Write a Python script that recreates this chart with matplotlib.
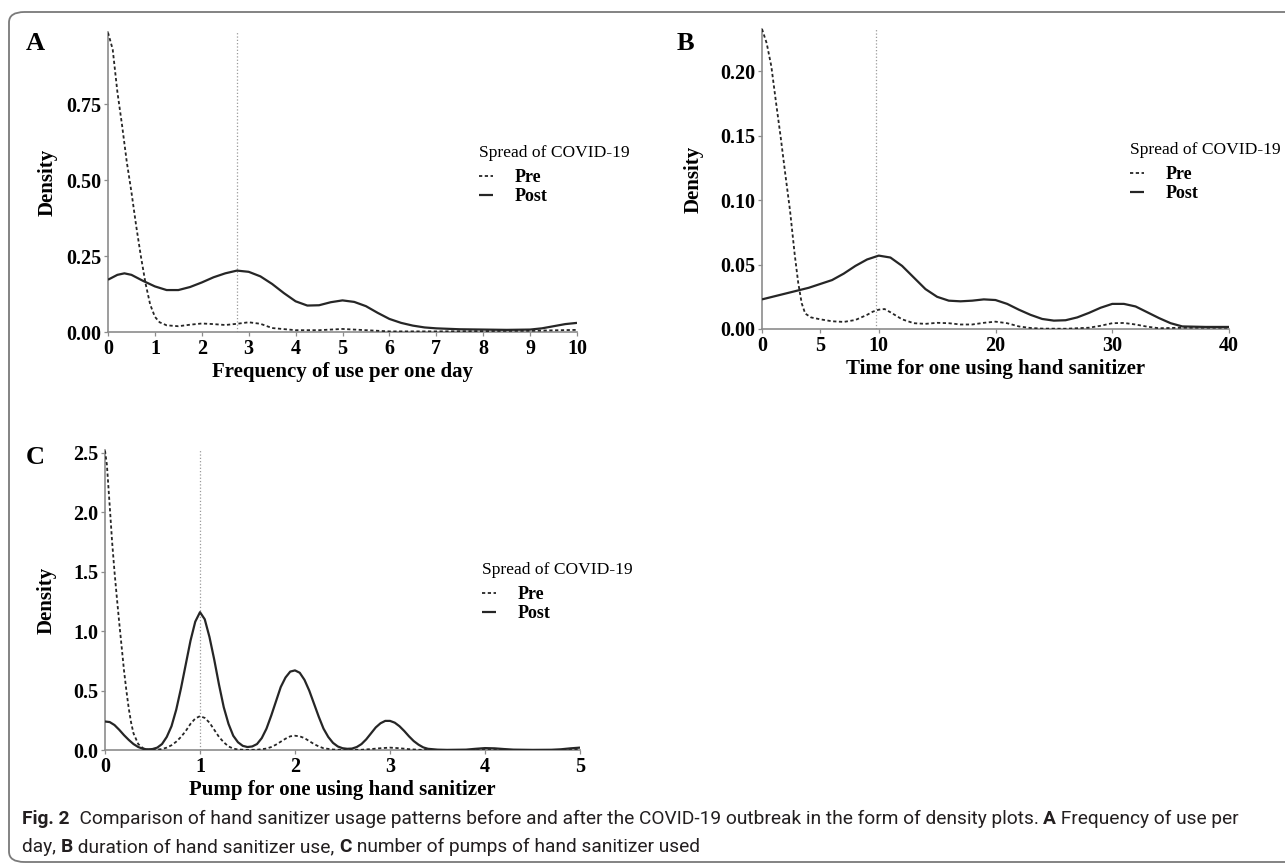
import matplotlib.pyplot as plt
from matplotlib.patches import FancyBboxPatch

# ---- data ----
# A: frequency of use per day
a_pre_x = [0, 0.1, 0.2, 0.3, 0.4, 0.5, 0.6, 0.7, 0.8, 0.9, 1.0, 1.1, 1.25, 1.5, 1.75,
           2.0, 2.25, 2.5, 2.75, 3.0, 3.25, 3.5, 4, 4.5, 5, 5.5, 6, 7, 8, 9, 10]
a_pre_y = [0.985, 0.93, 0.79, 0.68, 0.56, 0.46, 0.35, 0.25, 0.16, 0.09, 0.05, 0.032, 0.022,
           0.019, 0.024, 0.028, 0.026, 0.023, 0.027, 0.032, 0.027, 0.013, 0.006, 0.006,
           0.010, 0.006, 0.002, 0.002, 0.003, 0.004, 0.007]
a_post_x = [0, 0.2, 0.35, 0.5, 0.75, 1.0, 1.25, 1.5, 1.75, 2.0, 2.25, 2.5, 2.75, 3.0, 3.25,
            3.5, 3.75, 4.0, 4.25, 4.5, 4.75, 5.0, 5.25, 5.5, 5.75, 6.0, 6.25, 6.5, 6.75,
            7.0, 7.5, 8.0, 8.5, 9.0, 9.25, 9.5, 9.75, 10]
a_post_y = [0.172, 0.188, 0.193, 0.188, 0.168, 0.15, 0.138, 0.138, 0.148, 0.163, 0.18, 0.193,
            0.202, 0.198, 0.183, 0.158, 0.128, 0.101, 0.087, 0.088, 0.098, 0.104, 0.099,
            0.085, 0.063, 0.043, 0.03, 0.021, 0.015, 0.012, 0.009, 0.008, 0.007, 0.008,
            0.012, 0.019, 0.026, 0.03]

# B: time for one use
b_pre_x = [0, 0.4, 0.8, 1.2, 1.6, 2.0, 2.4, 2.8, 3.1, 3.4, 3.7, 4.2, 5, 6, 7, 8, 9, 9.5, 10,
           10.5, 11, 12, 13, 14, 15, 16, 17, 18, 19, 20, 21, 22, 23, 24, 26, 28, 29, 30,
           31, 32, 33, 34, 36, 38, 40]
b_pre_y = [0.233, 0.222, 0.204, 0.176, 0.149, 0.12, 0.092, 0.058, 0.036, 0.02, 0.012, 0.009,
           0.0075, 0.006, 0.0055, 0.007, 0.011, 0.0135, 0.015, 0.0155, 0.013, 0.0075, 0.0045,
           0.004, 0.0048, 0.0045, 0.0035, 0.0035, 0.0048, 0.0057, 0.0045, 0.002, 0.0008,
           0.0003, 0.0002, 0.001, 0.0025, 0.0045, 0.0047, 0.0035, 0.0018, 0.0006, 0.001,
           0.001, 0.001]
b_post_x = [0, 2, 4, 6, 7, 8, 9, 10, 11, 12, 13, 14, 15, 16, 17, 18, 19, 20, 21, 22, 23, 24,
            25, 26, 27, 28, 29, 30, 31, 32, 33, 34, 35, 36, 38, 40]
b_post_y = [0.023, 0.0275, 0.032, 0.038, 0.043, 0.049, 0.054, 0.057, 0.0555, 0.049, 0.04,
            0.031, 0.025, 0.022, 0.0215, 0.022, 0.023, 0.0225, 0.0195, 0.015, 0.011, 0.0078,
            0.0065, 0.0068, 0.009, 0.0125, 0.0165, 0.0195, 0.0195, 0.0175, 0.013, 0.0085,
            0.0045, 0.002, 0.0016, 0.0016]

# C: pumps per use
c_pre_x = [0, 0.02, 0.05, 0.075, 0.1, 0.125, 0.15, 0.175, 0.2, 0.225, 0.25, 0.275, 0.3,
           0.35, 0.4, 0.45, 0.5, 0.55, 0.6, 0.65, 0.7, 0.75, 0.8, 0.85, 0.9, 0.95, 1.0,
           1.05, 1.1, 1.15, 1.2, 1.25, 1.3, 1.35, 1.4, 1.5, 1.6, 1.7, 1.75, 1.8, 1.85, 1.9,
           1.95, 2.0, 2.05, 2.1, 2.15, 2.2, 2.25, 2.3, 2.4, 2.5, 2.7, 2.8, 2.9, 3.0, 3.1,
           3.2, 3.3, 3.5, 4.0, 5.0]
c_pre_y = [2.52, 2.4, 2.05, 1.75, 1.5, 1.28, 1.07, 0.87, 0.67, 0.5, 0.35, 0.23, 0.14, 0.05,
           0.015, 0.004, 0.002, 0.003, 0.008, 0.02, 0.04, 0.07, 0.11, 0.16, 0.22, 0.265,
           0.285, 0.27, 0.23, 0.17, 0.11, 0.065, 0.03, 0.012, 0.004, 0.001, 0.002, 0.012,
           0.025, 0.045, 0.07, 0.095, 0.115, 0.12, 0.115, 0.1, 0.075, 0.05, 0.03, 0.015,
           0.004, 0.001, 0.002, 0.008, 0.015, 0.02, 0.015, 0.007, 0.002, 0.0, 0.0, 0.0]
c_post_x = [0.0, 0.05, 0.1, 0.15, 0.2, 0.25, 0.3, 0.35, 0.4, 0.45, 0.5, 0.55, 0.6, 0.65,
            0.7, 0.75, 0.8, 0.85, 0.9, 0.95, 1.0, 1.05, 1.1, 1.15, 1.2, 1.25, 1.3, 1.35,
            1.4, 1.45, 1.5, 1.55, 1.6, 1.65, 1.7, 1.75, 1.8, 1.85, 1.9, 1.95, 2.0, 2.05,
            2.1, 2.15, 2.2, 2.25, 2.3, 2.35, 2.4, 2.45, 2.5, 2.55, 2.6, 2.65, 2.7, 2.75,
            2.8, 2.85, 2.9, 2.95, 3.0, 3.05, 3.1, 3.15, 3.2, 3.25, 3.3, 3.35, 3.4, 3.5,
            3.6, 3.8, 3.9, 4.0, 4.1, 4.2, 4.3, 4.5, 4.7, 4.8, 4.9, 5.0]
c_post_y = [0.24, 0.235, 0.21, 0.17, 0.125, 0.085, 0.05, 0.025, 0.01, 0.005, 0.008, 0.02,
            0.05, 0.11, 0.2, 0.34, 0.52, 0.72, 0.92, 1.08, 1.16, 1.10, 0.95, 0.76, 0.55,
            0.36, 0.22, 0.12, 0.065, 0.035, 0.025, 0.03, 0.05, 0.1, 0.18, 0.29, 0.41, 0.53,
            0.61, 0.66, 0.67, 0.65, 0.59, 0.5, 0.39, 0.28, 0.18, 0.11, 0.06, 0.03, 0.015,
            0.01, 0.012, 0.025, 0.05, 0.09, 0.14, 0.19, 0.225, 0.245, 0.245, 0.23, 0.2,
            0.16, 0.115, 0.075, 0.045, 0.022, 0.01, 0.003, 0.001, 0.003, 0.01, 0.016,
            0.014, 0.008, 0.003, 0.001, 0.002, 0.006, 0.014, 0.02]

W, H = 1285, 868
SERIF = 'Liberation Serif'

fig = plt.figure(figsize=(W / 100, H / 100), dpi=100)

# rounded frame around the figure
frame = FancyBboxPatch((9 / W, 1 - 862 / H), 1.05, (862 - 12) / H,
                       boxstyle='round,pad=0,rounding_size=0.012',
                       transform=fig.transFigure, fill=False,
                       edgecolor='#7a7a7a', linewidth=1.3)
fig.patches.append(frame)


def px_axes(left, right, top, bottom):
    return fig.add_axes([left / W, 1 - bottom / H, (right - left) / W, (bottom - top) / H])


panels = [
    dict(box=(108, 577, 32, 332), pre=(a_pre_x, a_pre_y), post=(a_post_x, a_post_y),
         xlim=(0, 10), ylim=(0, 0.987), xticks=list(range(11)),
         yticks=[0, 0.25, 0.5, 0.75], yfmt='{:.2f}', vline=2.75,
         xlabel='Frequency of use per one day', letter='A', letter_xy=(35, 43),
         legend_xy=(479, 145), ylabel_x=48, xlabel_y=372),
    dict(box=(762, 1229, 29, 329), pre=(b_pre_x, b_pre_y), post=(b_post_x, b_post_y),
         xlim=(0, 40), ylim=(0, 0.233), xticks=[0, 5, 10, 20, 30, 40],
         yticks=[0, 0.05, 0.1, 0.15, 0.2], yfmt='{:.2f}', vline=9.75,
         xlabel='Time for one using hand sanitizer', letter='B', letter_xy=(685, 43),
         legend_xy=(1130, 142), ylabel_x=694, xlabel_y=369),
    dict(box=(105, 580, 450, 750), pre=(c_pre_x, c_pre_y), post=(c_post_x, c_post_y),
         xlim=(0, 5), ylim=(0, 2.525), xticks=list(range(6)),
         yticks=[0, 0.5, 1.0, 1.5, 2.0, 2.5], yfmt='{:.1f}', vline=1.0,
         xlabel='Pump for one using hand sanitizer', letter='C', letter_xy=(35, 457),
         legend_xy=(482, 562), ylabel_x=47, xlabel_y=790),
]

for p in panels:
    ax = px_axes(*p['box'])
    ax.axvline(p['vline'], color='#9a9a9a', linestyle=':', linewidth=0.9, zorder=1)
    ax.plot(*p['post'], color='#262626', linewidth=1.6, solid_capstyle='butt',
            label='Post', zorder=3)
    ax.plot(*p['pre'], color='#262626', linewidth=1.3, dashes=(1.8, 1.4),
            label='Pre', zorder=3)
    ax.set_xlim(*p['xlim'])
    ax.set_ylim(*p['ylim'])
    ax.set_xticks(p['xticks'])
    ax.set_yticks(p['yticks'])
    ax.set_yticklabels([p['yfmt'].format(v) for v in p['yticks']])
    for side in ('top', 'right'):
        ax.spines[side].set_visible(False)
    for side in ('left', 'bottom'):
        ax.spines[side].set_color('#8c8c8c')
        ax.spines[side].set_linewidth(1.2)
    ax.tick_params(length=3, width=0.9, color='#8c8c8c', pad=2)
    for lab in ax.get_xticklabels() + ax.get_yticklabels():
        lab.set_fontfamily(SERIF)
        lab.set_fontweight('bold')
        lab.set_fontsize(14.5)
        lab.set_color('black')
    ax.set_facecolor('none')

    l, r, t, b = p['box']
    fig.text(p['ylabel_x'] / W, 1 - (t + b) / 2 / H, 'Density', rotation=90,
             ha='center', va='center', fontfamily=SERIF, fontweight='bold', fontsize=15)
    fig.text((l + r) / 2 / W, 1 - p['xlabel_y'] / H, p['xlabel'], ha='center',
             va='center', fontfamily=SERIF, fontweight='bold', fontsize=15)
    fig.text(p['letter_xy'][0] / W, 1 - p['letter_xy'][1] / H, p['letter'],
             ha='center', va='center', fontfamily=SERIF, fontweight='bold', fontsize=19)

    h_post, h_pre = ax.get_lines()[1], ax.get_lines()[2]
    leg = ax.legend([h_pre, h_post], ['Pre', 'Post'], title='Spread of COVID-19',
                    loc='upper left',
                    bbox_to_anchor=(p['legend_xy'][0] / W, 1 - p['legend_xy'][1] / H),
                    bbox_transform=fig.transFigure, frameon=False, borderpad=0,
                    borderaxespad=0, handlelength=0.8, handletextpad=1.2,
                    labelspacing=0.1, alignment='left',
                    prop=dict(family=SERIF, weight='bold', size=13),
                    title_fontproperties=dict(family=SERIF, size=12.6))
    leg._legend_box.sep = 6

# caption with mixed bold/regular pieces
CAP = 'Roboto'
cap_size = 13.8
lines = [
    [('Fig. 2', 'bold'),
     ('  Comparison of hand sanitizer usage patterns before and after the COVID-19 '
      'outbreak in the form of density plots. ', 'normal'),
     ('A', 'bold'), (' Frequency of use per', 'normal')],
    [('day, ', 'normal'), ('B', 'bold'), (' duration of hand sanitizer use, ', 'normal'),
     ('C', 'bold'), (' number of pumps of hand sanitizer used', 'normal')],
]
renderer = fig.canvas.get_renderer()
for row, y in zip(lines, [819, 847]):
    x = 22
    for txt, wt in row:
        t = fig.text(x / W, 1 - y / H, txt, ha='left', va='center', fontfamily=CAP,
                     fontweight=wt, fontsize=cap_size, color='#231f20')
        x += t.get_window_extent(renderer).width

fig.savefig('out.png', dpi=100)
